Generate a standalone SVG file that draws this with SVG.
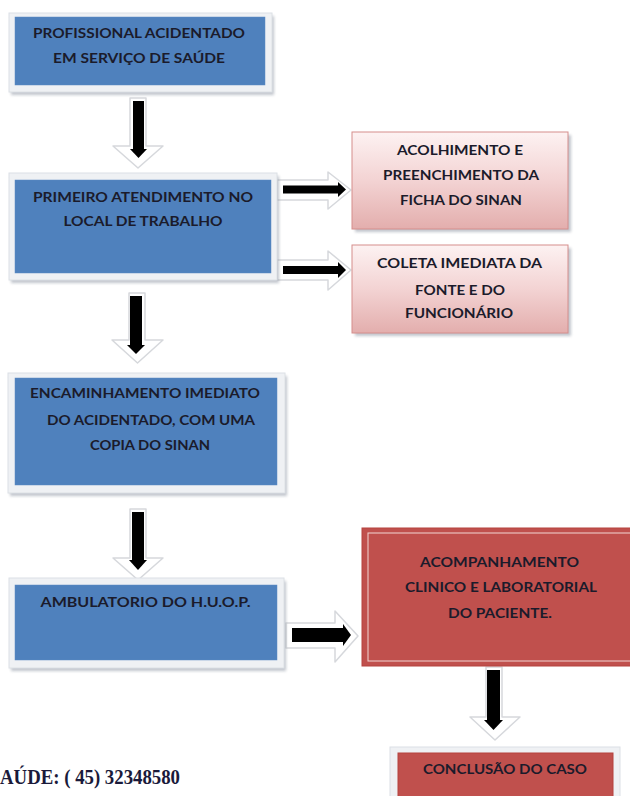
<svg xmlns="http://www.w3.org/2000/svg" width="630" height="796" viewBox="0 0 630 796">
<defs>
<linearGradient id="pink" x1="0" y1="0" x2="0" y2="1">
<stop offset="0" stop-color="#FDF2F2"/>
<stop offset="0.5" stop-color="#F3D3D3"/>
<stop offset="1" stop-color="#E3AEAD"/>
</linearGradient>
<filter id="sh" x="-10%" y="-10%" width="130%" height="130%">
<feGaussianBlur stdDeviation="1.5"/>
</filter>
<style>
.frame{fill:#EFF1F4;stroke:#DCE0E5;stroke-width:1}
.blue{fill:#4F81BD;stroke:#5B8AC2;stroke-width:0.5}
.shadow{fill:#8E96A3;opacity:0.55;filter:url(#sh)}
.pink{fill:url(#pink);stroke:#D58E8C;stroke-width:1}
.red{fill:#C0504D;stroke:#B5433F;stroke-width:1}
.redline{fill:none;stroke:#F2D5D4;stroke-width:1}
.lbl{font-family:Lato,"Open Sans","Noto Sans",sans-serif;font-weight:700;font-size:12.5px;fill:#1B1B2B;text-anchor:middle}
.aw{fill:#FFFFFF;stroke:#D6D8DC;stroke-width:1.5;stroke-linejoin:round}
.ab{fill:#000000}
.foot{font-family:"Liberation Serif","Times New Roman",serif;font-weight:700;font-size:20px;fill:#1A1A3A}
</style>
</defs>
<rect width="630" height="796" fill="#FFFFFF"/>

<g id="connectors">
<g id="a1">
<polygon class="aw" points="130,98 146,98 146,146 163,146 138,168 113,146 130,146"/>
<rect class="ab" x="133" y="101" width="11" height="49"/>
<polygon class="ab" points="130,149 147,149 138.5,158"/>
</g>
<g id="a2">
<polygon class="aw" points="129,293 145,293 145,340 163,340 137.5,363 112,340 129,340"/>
<rect class="ab" x="130" y="296" width="12" height="50"/>
<polygon class="ab" points="127,345 145,345 136,354"/>
</g>
<g id="a3">
<polygon class="aw" points="130,509 146,509 146,558 163,558 138,580 113,558 130,558"/>
<rect class="ab" x="132" y="512" width="12" height="50"/>
<polygon class="ab" points="129,560 147,560 138,570"/>
</g>
<g id="a4">
<polygon class="aw" points="486,667 502,667 502,717 520,717 495,740 470,717 486,717"/>
<rect class="ab" x="487" y="670" width="13" height="52"/>
<polygon class="ab" points="484,720 503,720 493.5,730"/>
</g>
<g id="aA">
<polygon class="aw" points="277,180 328,180 328,172 351,190 328,209 328,200 277,200"/>
<rect class="ab" x="283" y="185.5" width="57" height="8"/>
<polygon class="ab" points="338,182 338,197 346,189.5"/>
</g>
<g id="aB">
<polygon class="aw" points="277,260 328,260 328,251 351,270 328,290 328,280 277,280"/>
<rect class="ab" x="283" y="266" width="57" height="8"/>
<polygon class="ab" points="338,262 338,278 346,270"/>
</g>
<g id="aC">
<polygon class="aw" points="286,623 335,623 335,611 358,636 335,662 335,648 286,648"/>
<rect class="ab" x="292" y="628" width="53" height="14"/>
<polygon class="ab" points="343,624 343,646 351,635"/>
</g>
</g>

<g id="n1">
<rect class="shadow" x="11" y="16" width="263" height="79"/>
<rect class="frame" x="9" y="13" width="263" height="79"/>
<rect class="blue" x="15" y="17" width="250" height="68"/>
<text class="lbl" x="139" y="38" textLength="212" lengthAdjust="spacingAndGlyphs">PROFISSIONAL ACIDENTADO</text>
<text class="lbl" x="139" y="63" textLength="172" lengthAdjust="spacingAndGlyphs">EM SERVIÇO DE SAÚDE</text>
</g>

<g id="n2">
<rect class="shadow" x="11" y="176" width="268" height="107"/>
<rect class="frame" x="9" y="173" width="268" height="107"/>
<rect class="blue" x="15" y="180" width="256" height="93"/>
<text class="lbl" x="143" y="202" textLength="220" lengthAdjust="spacingAndGlyphs">PRIMEIRO ATENDIMENTO NO</text>
<text class="lbl" x="143" y="226" textLength="159" lengthAdjust="spacingAndGlyphs">LOCAL DE TRABALHO</text>
</g>

<g id="n3">
<rect class="shadow" x="10" y="376" width="277" height="120"/>
<rect class="frame" x="8" y="373" width="277" height="120"/>
<rect class="blue" x="15" y="378" width="262" height="107"/>
<text class="lbl" x="145" y="398" textLength="230" lengthAdjust="spacingAndGlyphs">ENCAMINHAMENTO IMEDIATO</text>
<text class="lbl" x="151" y="425" textLength="208" lengthAdjust="spacingAndGlyphs">DO ACIDENTADO, COM UMA</text>
<text class="lbl" x="150" y="450" textLength="120" lengthAdjust="spacingAndGlyphs">COPIA DO SINAN</text>
</g>

<g id="n4">
<rect class="shadow" x="11" y="581" width="275" height="90"/>
<rect class="frame" x="9" y="578" width="275" height="90"/>
<rect class="blue" x="15" y="585" width="262" height="75"/>
<text class="lbl" x="145.5" y="607" textLength="210" lengthAdjust="spacingAndGlyphs">AMBULATORIO DO H.U.O.P.</text>
</g>

<g id="nA">
<rect class="shadow" x="355" y="135" width="216" height="97"/>
<rect class="pink" x="352" y="132" width="216" height="97"/>
<text class="lbl" x="460" y="155" textLength="126" lengthAdjust="spacingAndGlyphs">ACOLHIMENTO E</text>
<text class="lbl" x="461" y="180" textLength="156" lengthAdjust="spacingAndGlyphs">PREENCHIMENTO DA</text>
<text class="lbl" x="461" y="205" textLength="122" lengthAdjust="spacingAndGlyphs">FICHA DO SINAN</text>
</g>

<g id="nB">
<rect class="shadow" x="355" y="248" width="216" height="88"/>
<rect class="pink" x="352" y="245" width="216" height="88"/>
<text class="lbl" x="459.5" y="268" textLength="165" lengthAdjust="spacingAndGlyphs">COLETA IMEDIATA DA</text>
<text class="lbl" x="460" y="295" textLength="90" lengthAdjust="spacingAndGlyphs">FONTE E DO</text>
<text class="lbl" x="459" y="318" textLength="108" lengthAdjust="spacingAndGlyphs">FUNCIONÁRIO</text>
</g>

<g id="n5">
<rect class="red" x="362" y="528" width="280" height="138"/>
<rect class="redline" x="368" y="533" width="270" height="128"/>
<text class="lbl" x="499.5" y="567" textLength="159" lengthAdjust="spacingAndGlyphs">ACOMPANHAMENTO</text>
<text class="lbl" x="501" y="592" textLength="192" lengthAdjust="spacingAndGlyphs">CLINICO E LABORATORIAL</text>
<text class="lbl" x="500" y="618" textLength="104" lengthAdjust="spacingAndGlyphs">DO PACIENTE.</text>
</g>

<g id="n6">
<rect class="frame" x="390" y="747" width="230" height="60"/>
<rect class="red" x="398" y="753" width="215" height="55"/>
<text class="lbl" x="505" y="774" textLength="164" lengthAdjust="spacingAndGlyphs">CONCLUSÃO DO CASO</text>
</g>

<text class="foot" x="0" y="784" textLength="180" lengthAdjust="spacingAndGlyphs">AÚDE: ( 45) 32348580</text>
</svg>
